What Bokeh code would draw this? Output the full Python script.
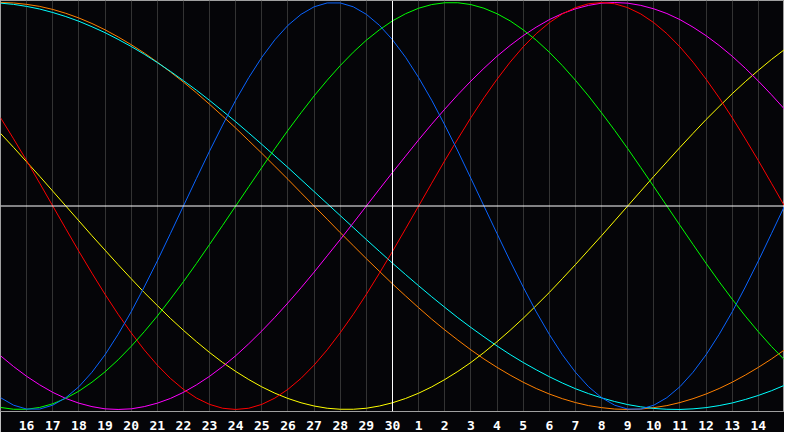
from bokeh.plotting import figure
from bokeh.models import Range1d, FixedTicker, Span
from bokeh.embed import file_html
from bokeh.resources import INLINE

# half-day steps from the 15th of the previous month to the 15th of this month
day_pos = [i / 2 for i in range(61)]
day_labels = ["16", "17", "18", "19", "20", "21", "22", "23", "24", "25", "26", "27", "28", "29", "30",
              "1", "2", "3", "4", "5", "6", "7", "8", "9", "10", "11", "12", "13", "14"]

# cycle values every half day (-1 .. 1)
blue = [-0.942, -0.979, -0.998, -0.998, -0.979, -0.942, -0.888, -0.817, -0.731, -0.631,
        -0.520, -0.398, -0.270, -0.136, 0.000, 0.136, 0.270, 0.398, 0.520, 0.631,
        0.731, 0.817, 0.888, 0.942, 0.979, 0.998, 0.998, 0.979, 0.942, 0.888,
        0.817, 0.731, 0.631, 0.520, 0.398, 0.270, 0.136, 0.000, -0.136, -0.270,
        -0.398, -0.520, -0.631, -0.731, -0.817, -0.888, -0.942, -0.979, -0.998, -0.998,
        -0.979, -0.942, -0.888, -0.817, -0.731, -0.631, -0.520, -0.398, -0.270, -0.136,
        0.000]
red = [0.434, 0.330, 0.223, 0.112, 0.000, -0.112, -0.223, -0.330, -0.434, -0.532,
       -0.623, -0.707, -0.782, -0.847, -0.901, -0.944, -0.975, -0.994, -1.000, -0.994,
       -0.975, -0.944, -0.901, -0.847, -0.782, -0.707, -0.623, -0.532, -0.434, -0.330,
       -0.223, -0.112, 0.000, 0.112, 0.223, 0.330, 0.434, 0.532, 0.623, 0.707,
       0.782, 0.847, 0.901, 0.944, 0.975, 0.994, 1.000, 0.994, 0.975, 0.944,
       0.901, 0.847, 0.782, 0.707, 0.623, 0.532, 0.434, 0.330, 0.223, 0.112,
       0.000]
green = [-0.990, -0.999, -0.999, -0.990, -0.972, -0.945, -0.910, -0.866, -0.815, -0.756,
         -0.690, -0.618, -0.541, -0.458, -0.372, -0.282, -0.189, -0.095, 0.000, 0.095,
         0.189, 0.282, 0.372, 0.458, 0.541, 0.618, 0.690, 0.756, 0.815, 0.866,
         0.910, 0.945, 0.972, 0.990, 0.999, 0.999, 0.990, 0.972, 0.945, 0.910,
         0.866, 0.815, 0.756, 0.690, 0.618, 0.541, 0.458, 0.372, 0.282, 0.189,
         0.095, 0.000, -0.095, -0.189, -0.282, -0.372, -0.458, -0.541, -0.618, -0.690,
         -0.756]
magenta = [-0.736, -0.789, -0.837, -0.879, -0.916, -0.946, -0.969, -0.986, -0.997, -1.000,
           -0.997, -0.986, -0.969, -0.946, -0.916, -0.879, -0.837, -0.789, -0.736, -0.677,
           -0.614, -0.547, -0.476, -0.402, -0.325, -0.245, -0.165, -0.083, 0.000, 0.083,
           0.165, 0.245, 0.325, 0.402, 0.476, 0.547, 0.614, 0.677, 0.736, 0.789,
           0.837, 0.879, 0.916, 0.946, 0.969, 0.986, 0.997, 1.000, 0.997, 0.986,
           0.969, 0.946, 0.916, 0.879, 0.837, 0.789, 0.736, 0.677, 0.614, 0.547,
           0.476]
yellow = [0.357, 0.288, 0.217, 0.146, 0.073, 0.000, -0.073, -0.146, -0.217, -0.288,
          -0.357, -0.425, -0.489, -0.552, -0.611, -0.667, -0.720, -0.769, -0.813, -0.853,
          -0.889, -0.920, -0.946, -0.967, -0.983, -0.994, -0.999, -0.999, -0.994, -0.983,
          -0.967, -0.946, -0.920, -0.889, -0.853, -0.813, -0.769, -0.720, -0.667, -0.611,
          -0.552, -0.489, -0.425, -0.357, -0.288, -0.217, -0.146, -0.073, 0.000, 0.073,
          0.146, 0.217, 0.288, 0.357, 0.425, 0.489, 0.552, 0.611, 0.667, 0.720,
          0.769]
orange = [1.000, 0.998, 0.991, 0.981, 0.966, 0.947, 0.924, 0.897, 0.866, 0.831,
          0.793, 0.752, 0.707, 0.659, 0.609, 0.556, 0.500, 0.442, 0.383, 0.321,
          0.259, 0.195, 0.131, 0.065, 0.000, -0.065, -0.131, -0.195, -0.259, -0.321,
          -0.383, -0.442, -0.500, -0.556, -0.609, -0.659, -0.707, -0.752, -0.793, -0.831,
          -0.866, -0.897, -0.924, -0.947, -0.966, -0.981, -0.991, -0.998, -1.000, -0.998,
          -0.991, -0.981, -0.966, -0.947, -0.924, -0.897, -0.866, -0.831, -0.793, -0.752,
          -0.707]
cyan = [0.997, 0.991, 0.981, 0.968, 0.951, 0.931, 0.908, 0.881, 0.852, 0.819,
        0.784, 0.746, 0.705, 0.662, 0.616, 0.569, 0.519, 0.467, 0.414, 0.359,
        0.303, 0.246, 0.189, 0.130, 0.071, 0.012, -0.047, -0.106, -0.165, -0.223,
        -0.281, -0.337, -0.392, -0.446, -0.498, -0.549, -0.597, -0.643, -0.688, -0.730,
        -0.769, -0.805, -0.839, -0.870, -0.898, -0.922, -0.943, -0.961, -0.976, -0.987,
        -0.995, -0.999, -1.000, -0.997, -0.991, -0.981, -0.968, -0.951, -0.931, -0.908,
        -0.881]

series = [
    (orange, "#ff8000"),
    (cyan, "#00ffff"),
    (yellow, "#ffff00"),
    (magenta, "#ff00ff"),
    (red, "#ff0000"),
    (green, "#00ff00"),
    (blue, "#0a64ff"),
]

p = figure(width=784, height=432, output_backend="svg", toolbar_location=None, tools="",
           x_range=Range1d(0, 30), y_range=Range1d(-1.01, 1.01),
           min_border_left=0, min_border_right=0, min_border_top=0, min_border_bottom=0)

p.background_fill_color = "#050508"
p.border_fill_color = "#050508"
p.outline_line_color = "#a0a0a0"

p.yaxis.visible = False
p.ygrid.grid_line_color = None

ticks = list(range(1, 30))
p.xaxis.ticker = FixedTicker(ticks=ticks)
p.xaxis.major_label_overrides = {t: lab for t, lab in zip(ticks, day_labels)}
p.xaxis.axis_line_color = "#a0a0a0"
p.xaxis.major_tick_line_color = None
p.xaxis.minor_tick_line_color = None
p.xaxis.major_label_text_color = "white"
p.xaxis.major_label_text_font = "DejaVu Sans Mono"
p.xaxis.major_label_text_font_style = "bold"
p.xaxis.major_label_text_font_size = "13px"
p.xaxis.major_label_standoff = 3

p.xgrid.ticker = FixedTicker(ticks=ticks)
p.xgrid.grid_line_color = "#333333"
p.xgrid.grid_line_width = 1

p.add_layout(Span(location=0, dimension="width", line_color="white", line_width=1))
p.add_layout(Span(location=15, dimension="height", line_color="white", line_width=1))

for vals, col in series:
    p.line(day_pos, vals, line_color=col, line_width=1)

open("out.html", "w").write(file_html(p, INLINE))
